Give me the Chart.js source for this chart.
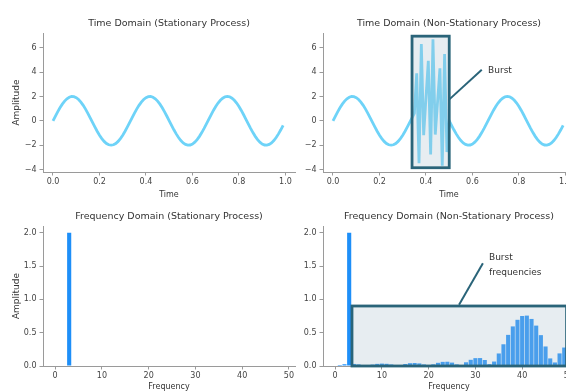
<!DOCTYPE html>
<html>
<head>
<meta charset="utf-8">
<script src="https://cdn.jsdelivr.net/npm/chart.js@4.4.1/dist/chart.umd.min.js"></script>
<style>
  html, body { margin: 0; padding: 0; background: #fff; overflow: hidden; width: 566px; height: 392px; }
  .panel { position: absolute; }
</style>
</head>
<body>
<div class="panel" style="left:0;top:0"><canvas id="timeStationary" width="300" height="200"></canvas></div>
<div class="panel" style="left:280px;top:0"><canvas id="timeNonStationary" width="300" height="200"></canvas></div>
<div class="panel" style="left:0;top:196px"><canvas id="freqStationary" width="300" height="196"></canvas></div>
<div class="panel" style="left:280px;top:196px"><canvas id="freqNonStationary" width="300" height="196"></canvas></div>
<script>
// sample times (s), 100 samples over one second
const timeSec = [
  0.00, 0.01, 0.02, 0.03, 0.04, 0.05, 0.06, 0.07, 0.08, 0.09,
  0.10, 0.11, 0.12, 0.13, 0.14, 0.15, 0.16, 0.17, 0.18, 0.19,
  0.20, 0.21, 0.22, 0.23, 0.24, 0.25, 0.26, 0.27, 0.28, 0.29,
  0.30, 0.31, 0.32, 0.33, 0.34, 0.35, 0.36, 0.37, 0.38, 0.39,
  0.40, 0.41, 0.42, 0.43, 0.44, 0.45, 0.46, 0.47, 0.48, 0.49,
  0.50, 0.51, 0.52, 0.53, 0.54, 0.55, 0.56, 0.57, 0.58, 0.59,
  0.60, 0.61, 0.62, 0.63, 0.64, 0.65, 0.66, 0.67, 0.68, 0.69,
  0.70, 0.71, 0.72, 0.73, 0.74, 0.75, 0.76, 0.77, 0.78, 0.79,
  0.80, 0.81, 0.82, 0.83, 0.84, 0.85, 0.86, 0.87, 0.88, 0.89,
  0.90, 0.91, 0.92, 0.93, 0.94, 0.95, 0.96, 0.97, 0.98, 0.99
];

const stationarySignal = [
  0.000, 0.375, 0.736, 1.071, 1.369, 1.618, 1.810, 1.937, 1.996, 1.984,
  1.902, 1.753, 1.541, 1.274, 0.963, 0.618, 0.251, -0.126, -0.497, -0.852,
  -1.176, -1.458, -1.689, -1.859, -1.965, -2.000, -1.965, -1.859, -1.689, -1.458,
  -1.176, -0.852, -0.497, -0.126, 0.251, 0.618, 0.963, 1.274, 1.541, 1.753,
  1.902, 1.984, 1.996, 1.937, 1.810, 1.618, 1.369, 1.071, 0.736, 0.375,
  0.000, -0.375, -0.736, -1.071, -1.369, -1.618, -1.810, -1.937, -1.996, -1.984,
  -1.902, -1.753, -1.541, -1.274, -0.963, -0.618, -0.251, 0.126, 0.497, 0.852,
  1.176, 1.458, 1.689, 1.859, 1.965, 2.000, 1.965, 1.859, 1.689, 1.458,
  1.176, 0.852, 0.497, 0.126, -0.251, -0.618, -0.963, -1.274, -1.541, -1.753,
  -1.902, -1.984, -1.996, -1.937, -1.810, -1.618, -1.369, -1.071, -0.736, -0.375
];

const nonStationarySignal = [
  0.000, 0.375, 0.736, 1.071, 1.369, 1.618, 1.810, 1.937, 1.996, 1.984,
  1.902, 1.753, 1.541, 1.274, 0.963, 0.618, 0.251, -0.126, -0.497, -0.852,
  -1.176, -1.458, -1.689, -1.859, -1.965, -2.000, -1.965, -1.859, -1.689, -1.458,
  -1.176, -0.852, -0.497, -0.126, 0.251, 0.618, 3.902, -3.481, 6.296, -1.186,
  1.902, 4.923, -2.759, 6.692, -1.129, 1.618, 4.308, -3.684, 5.491, -2.564,
  0.000, -0.375, -0.736, -1.071, -1.369, -1.618, -1.810, -1.937, -1.996, -1.984,
  -1.902, -1.753, -1.541, -1.274, -0.963, -0.618, -0.251, 0.126, 0.497, 0.852,
  1.176, 1.458, 1.689, 1.859, 1.965, 2.000, 1.965, 1.859, 1.689, 1.458,
  1.176, 0.852, 0.497, 0.126, -0.251, -0.618, -0.963, -1.274, -1.541, -1.753,
  -1.902, -1.984, -1.996, -1.937, -1.810, -1.618, -1.369, -1.071, -0.736, -0.375
];

// frequency bins (Hz)
const freqHz = [
  0, 1, 2, 3, 4, 5, 6, 7, 8, 9, 10, 11, 12, 13, 14, 15, 16, 17, 18, 19,
  20, 21, 22, 23, 24, 25, 26, 27, 28, 29, 30, 31, 32, 33, 34, 35, 36, 37, 38, 39,
  40, 41, 42, 43, 44, 45, 46, 47, 48, 49, 50
];

const stationarySpectrum = [
  0, 0, 0, 2.0, 0, 0, 0, 0, 0, 0, 0, 0, 0, 0, 0, 0, 0, 0, 0, 0,
  0, 0, 0, 0, 0, 0, 0, 0, 0, 0, 0, 0, 0, 0, 0, 0, 0, 0, 0, 0,
  0, 0, 0, 0, 0, 0, 0, 0, 0, 0, 0
];

const nonStationarySpectrum = [
  0.000, 0.015, 0.026, 2.000, 0.031, 0.024, 0.011, 0.005, 0.021, 0.032,
  0.036, 0.033, 0.023, 0.006, 0.013, 0.030, 0.042, 0.045, 0.039, 0.023,
  0.000, 0.025, 0.048, 0.062, 0.064, 0.051, 0.024, 0.013, 0.056, 0.093,
  0.118, 0.119, 0.090, 0.028, 0.067, 0.188, 0.326, 0.467, 0.594, 0.693,
  0.750, 0.756, 0.706, 0.606, 0.463, 0.293, 0.114, 0.053, 0.189, 0.277,
  0.308
];

const timeTicks = [0, 0.2, 0.4, 0.6, 0.8, 1.0];
const amplitudeTicks = [-4, -2, 0, 2, 4, 6];
const freqTicks = [0, 10, 20, 30, 40, 50];
const spectrumTicks = [0, 0.5, 1.0, 1.5, 2.0];

// highlight boxes: [xMin, xMax, yMin, yMax]
const burstBox = [0.34, 0.50, -3.85, 6.95];
const burstFreqBox = [3.6, 49.5, 0, 0.9];

const FONT = '"DejaVu Sans", "Liberation Sans", sans-serif';
const LINE_BLUE = '#6ed3f8';
const BAR_BLUE = '#1e8ff8';
const BOX_EDGE = '#2a6479';
const AXIS_GREY = '#9a9a9a';

const minus = v => String(v).replace('-', '\u2212');

// draws the highlight box, the pointer line and its label
const calloutPlugin = {
  id: 'callout',
  afterDatasetsDraw(chart, args, opts) {
    if (!opts.box) return;
    const { ctx } = chart;
    const x = chart.scales.x, y = chart.scales.y;
    const [x0, x1, y0, y1] = opts.box;
    const l = x.getPixelForValue(x0), r = x.getPixelForValue(x1);
    const t = y.getPixelForValue(y1), b = y.getPixelForValue(y0);
    ctx.save();
    ctx.fillStyle = 'rgba(176, 196, 210, 0.3)';
    ctx.fillRect(l, t, r - l, b - t);
    ctx.strokeStyle = BOX_EDGE;
    ctx.lineWidth = 2.8;
    ctx.strokeRect(l, t, r - l, b - t);

    const [ax0, ay0, ax1, ay1] = opts.arrow;
    ctx.lineWidth = 2;
    ctx.beginPath();
    ctx.moveTo(x.getPixelForValue(ax0), y.getPixelForValue(ay0));
    ctx.lineTo(x.getPixelForValue(ax1), y.getPixelForValue(ay1));
    ctx.stroke();

    ctx.fillStyle = '#333';
    ctx.font = '9px ' + FONT;
    ctx.textAlign = 'left';
    ctx.textBaseline = 'middle';
    const tx = x.getPixelForValue(opts.textAt[0]);
    let ty = y.getPixelForValue(opts.textAt[1]);
    opts.text.forEach(line => { ctx.fillText(line, tx, ty); ty += 15; });
    ctx.restore();
  }
};

function axisX(ticks, min, max, height, label, fmt) {
  return {
    type: 'linear', min, max, offset: false,
    afterBuildTicks: s => { s.ticks = ticks.map(v => ({ value: v })); },
    afterFit: s => { s.height = height; },
    border: { display: true, color: AXIS_GREY, width: 1 },
    grid: { display: true, drawOnChartArea: false, drawTicks: true, tickLength: 3.5, tickColor: AXIS_GREY, offset: false },
    ticks: { padding: 2, color: '#444', font: { family: FONT, size: 8 }, maxRotation: 0, callback: fmt },
    title: { display: true, text: label, color: '#333', font: { family: FONT, size: 8 }, padding: { top: 0, bottom: 0.5 } }
  };
}

function axisY(ticks, min, max, label, fmt) {
  return {
    type: 'linear', min, max,
    afterBuildTicks: s => { s.ticks = ticks.map(v => ({ value: v })); },
    afterFit: s => { s.width = 43; },
    border: { display: true, color: AXIS_GREY, width: 1 },
    grid: { display: true, drawOnChartArea: false, drawTicks: true, tickLength: 3.5, tickColor: AXIS_GREY },
    ticks: { padding: 3, color: '#444', font: { family: FONT, size: 8 }, callback: fmt },
    title: { display: !!label, text: label, color: '#333', font: { family: FONT, size: 9 }, padding: { top: 11.5, bottom: 0 } }
  };
}

function titleOpts(text, top, bottom) {
  return {
    display: true, text, fullSize: false, color: '#333',
    font: { family: FONT, size: 9.5, weight: 'normal' },
    padding: { top, bottom }
  };
}

function timeChart(id, title, signal, yLabel, callout) {
  return new Chart(document.getElementById(id), {
    type: 'line',
    data: {
      datasets: [{
        data: timeSec.map((t, i) => ({ x: t, y: signal[i] })),
        borderColor: LINE_BLUE,
        borderWidth: 2.8,
        pointRadius: 0,
        tension: 0
      }]
    },
    options: {
      responsive: false,
      animation: false,
      layout: { padding: { left: 0, right: 5, top: 0, bottom: 0 } },
      scales: {
        x: axisX(timeTicks, -0.043, 1.041, 28, 'Time', v => v.toFixed(1)),
        y: axisY(amplitudeTicks, -4.2, 7.21, yLabel, v => minus(v))
      },
      plugins: {
        legend: { display: false },
        tooltip: { enabled: false },
        title: titleOpts(title, 18, 3.6),
        callout: callout || {}
      }
    },
    plugins: [calloutPlugin]
  });
}

function freqChart(id, title, spectrum, yLabel, callout) {
  return new Chart(document.getElementById(id), {
    type: 'bar',
    data: {
      datasets: [{
        data: freqHz.map((f, i) => ({ x: f, y: spectrum[i] })),
        backgroundColor: BAR_BLUE,
        borderWidth: 0,
        categoryPercentage: 1,
        barPercentage: 0.88
      }]
    },
    options: {
      responsive: false,
      animation: false,
      layout: { padding: { left: 0, right: 5, top: 0, bottom: 0 } },
      scales: {
        x: axisX(freqTicks, -2.6, 51.3, 26, 'Frequency', v => String(v)),
        y: axisY(spectrumTicks, 0, 2.1, yLabel, v => v.toFixed(1))
      },
      plugins: {
        legend: { display: false },
        tooltip: { enabled: false },
        title: titleOpts(title, 15.3, 3.3),
        callout: callout || {}
      }
    },
    plugins: [calloutPlugin]
  });
}

timeChart('timeStationary', 'Time Domain (Stationary Process)', stationarySignal, 'Amplitude');
timeChart('timeNonStationary', 'Time Domain (Non-Stationary Process)', nonStationarySignal, '', {
  box: burstBox,
  arrow: [0.497, 1.7, 0.64, 4.2],
  textAt: [0.667, 4.1],
  text: ['Burst']
});
freqChart('freqStationary', 'Frequency Domain (Stationary Process)', stationarySpectrum, 'Amplitude');
freqChart('freqNonStationary', 'Frequency Domain (Non-Stationary Process)', nonStationarySpectrum, '', {
  box: burstFreqBox,
  arrow: [26.5, 0.92, 31.6, 1.54],
  textAt: [32.9, 1.63],
  text: ['Burst', 'frequencies']
});
</script>
</body>
</html>
